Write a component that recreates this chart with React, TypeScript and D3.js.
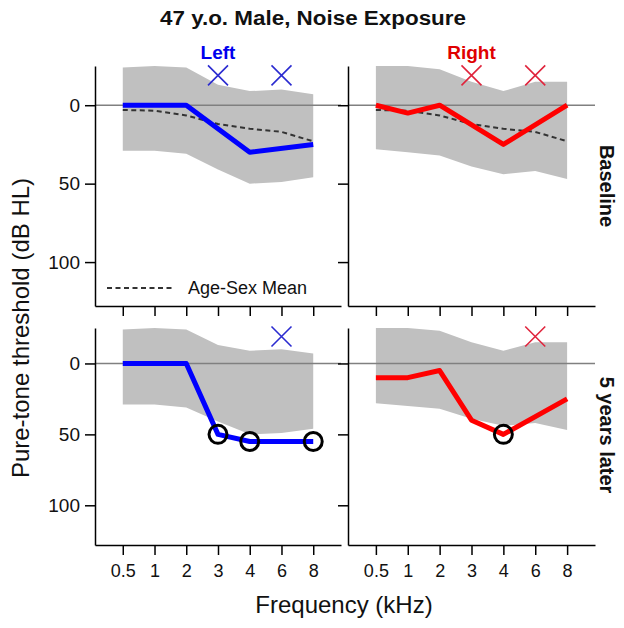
import { useEffect, useRef } from 'react';
import * as d3 from 'd3';

const freqLabels = ['0.5', '1', '2', '3', '4', '6', '8'];

// normal range band per ear (dB HL, upper / lower edge)
const leftNormUpper = [-24, -25, -24, -13, -9, -10, -7];
const leftNormLower = [29, 29, 31, 41, 50, 49, 46];
const rightNormUpper = [-25, -25, -23, -15, -9, -15, -15];
const rightNormLower = [28, 30, 32, 39, 44, 42, 47];

const ageSexMean = [3, 3.5, 6.5, 12, 15, 17, 23];

// thresholds; null = no response (drawn as an X)
const leftBaseline = [0, 0, 0, null, 30, null, 25];
const rightBaseline = [0, 5, 0, null, 25, null, 0];
const leftLater = [0, 0, 0, 50, 55, null, 55];
const rightLater = [10, 10, 5, 40, 50, null, 25];

// frequencies with a significant shift (circled)
const leftLaterShifts = ['3', '4', '8'];
const rightLaterShifts = ['4'];

const yTicks = [0, 50, 100];
const yDomain: [number, number] = [-25, 128];
const noResponseLevel = -19;

const FONT = 'Liberation Sans, Arial, sans-serif';

type Val = number | null;

interface Panel {
  x0: number;
  x1: number;
  y0: number;
  y1: number;
  color: string;
  markColor: string;
  upper: number[];
  lower: number[];
  values: Val[];
  shifts: string[];
  showMean: boolean;
  showLegend: boolean;
  showXLabels: boolean;
  showYLabels: boolean;
}

const panels: Panel[] = [
  {
    x0: 95, x1: 341, y0: 66, y1: 306, color: '#0000ff', markColor: '#2b2bd0',
    upper: leftNormUpper, lower: leftNormLower, values: leftBaseline, shifts: [],
    showMean: true, showLegend: true, showXLabels: false, showYLabels: true,
  },
  {
    x0: 348, x1: 595, y0: 66, y1: 306, color: '#ff0000', markColor: '#e0243c',
    upper: rightNormUpper, lower: rightNormLower, values: rightBaseline, shifts: [],
    showMean: true, showLegend: false, showXLabels: false, showYLabels: false,
  },
  {
    x0: 95, x1: 341, y0: 328, y1: 545, color: '#0000ff', markColor: '#2b2bd0',
    upper: leftNormUpper, lower: leftNormLower, values: leftLater, shifts: leftLaterShifts,
    showMean: false, showLegend: false, showXLabels: true, showYLabels: true,
  },
  {
    x0: 348, x1: 595, y0: 328, y1: 545, color: '#ff0000', markColor: '#e0243c',
    upper: rightNormUpper, lower: rightNormLower, values: rightLater, shifts: rightLaterShifts,
    showMean: false, showLegend: false, showXLabels: true, showYLabels: false,
  },
];

export default function App() {
  const svgRef = useRef<SVGSVGElement>(null);

  useEffect(() => {
    if (!svgRef.current) return;
    const svg = d3.select(svgRef.current);
    svg.selectAll('*').remove();

    panels.forEach((p) => {
      const x = d3.scalePoint<string>().domain(freqLabels).range([p.x0, p.x1]).padding(0.875);
      const y = d3.scaleLinear().domain(yDomain).range([p.y0, p.y1]);
      const g = svg.append('g');

      // normal range band
      const area = d3.area<number>()
        .x((_, i) => x(freqLabels[i])!)
        .y0((_, i) => y(p.upper[i]))
        .y1((_, i) => y(p.lower[i]));
      g.append('path').attr('d', area(p.upper)).attr('fill', '#c0c0c0');

      // 0 dB reference
      g.append('line')
        .attr('x1', p.x0).attr('x2', p.x1)
        .attr('y1', y(0)).attr('y2', y(0))
        .attr('stroke', '#808080').attr('stroke-width', 1.5);

      if (p.showMean) {
        const meanLine = d3.line<number>()
          .x((_, i) => x(freqLabels[i])!)
          .y((d) => y(d));
        g.append('path')
          .attr('d', meanLine(ageSexMean))
          .attr('fill', 'none')
          .attr('stroke', '#333')
          .attr('stroke-width', 2)
          .attr('stroke-dasharray', '5,3.5');
      }

      const pts = p.values
        .map((v, i) => ({ f: freqLabels[i], v }))
        .filter((d) => d.v !== null) as { f: string; v: number }[];
      const thrLine = d3.line<{ f: string; v: number }>()
        .x((d) => x(d.f)!)
        .y((d) => y(d.v));
      g.append('path')
        .attr('d', thrLine(pts))
        .attr('fill', 'none')
        .attr('stroke', p.color)
        .attr('stroke-width', 5)
        .attr('stroke-linejoin', 'round');

      // shift circles
      g.selectAll('circle.shift')
        .data(pts.filter((d) => p.shifts.includes(d.f)))
        .enter()
        .append('circle')
        .attr('cx', (d) => x(d.f)!)
        .attr('cy', (d) => y(d.v))
        .attr('r', 9)
        .attr('fill', 'none')
        .attr('stroke', '#000')
        .attr('stroke-width', 3);

      // no-response crosses
      const missing = freqLabels.filter((_, i) => p.values[i] === null);
      missing.forEach((f) => {
        const cx = x(f)!;
        const cy = y(noResponseLevel);
        const s = 10;
        g.append('path')
          .attr('d', `M${cx - s},${cy - s}L${cx + s},${cy + s}M${cx - s},${cy + s}L${cx + s},${cy - s}`)
          .attr('stroke', p.markColor)
          .attr('stroke-width', 1.6)
          .attr('fill', 'none');
      });

      // axes
      const xAxis = d3.axisBottom(x).tickSize(10).tickSizeOuter(0).tickPadding(9);
      const gx = g.append('g').attr('transform', `translate(0,${p.y1})`).call(xAxis);
      gx.selectAll('path, line').attr('stroke', '#000').attr('stroke-width', 1.5);
      gx.selectAll('text')
        .attr('font-family', FONT)
        .attr('font-size', 18)
        .attr('fill', '#111')
        .style('display', p.showXLabels ? null : 'none');

      const yAxis = d3.axisLeft(y).tickValues(yTicks).tickSize(10).tickSizeOuter(0).tickPadding(5);
      const gy = g.append('g').attr('transform', `translate(${p.x0},0)`).call(yAxis);
      gy.selectAll('path, line').attr('stroke', '#000').attr('stroke-width', 1.5);
      gy.selectAll('text')
        .attr('font-family', FONT)
        .attr('font-size', 19)
        .attr('fill', '#111')
        .style('display', p.showYLabels ? null : 'none');

      if (p.showLegend) {
        const ly = p.y1 - 18;
        g.append('line')
          .attr('x1', p.x0 + 12).attr('x2', p.x0 + 80)
          .attr('y1', ly).attr('y2', ly)
          .attr('stroke', '#333').attr('stroke-width', 2)
          .attr('stroke-dasharray', '5,3.5');
        g.append('text')
          .attr('x', p.x0 + 93)
          .attr('y', ly)
          .attr('dominant-baseline', 'central')
          .attr('font-family', FONT)
          .attr('font-size', 18)
          .attr('fill', '#111')
          .text('Age-Sex Mean');
      }
    });

    const xl = d3.scalePoint<string>().domain(freqLabels).range([95, 341]).padding(0.875);
    const xr = d3.scalePoint<string>().domain(freqLabels).range([348, 595]).padding(0.875);

    // title and ear labels
    svg.append('text')
      .attr('x', 313).attr('y', 25)
      .attr('text-anchor', 'middle')
      .attr('font-family', FONT).attr('font-size', 20).attr('font-weight', 700)
      .attr('textLength', 306).attr('lengthAdjust', 'spacingAndGlyphs')
      .attr('fill', '#111')
      .text('47 y.o. Male, Noise Exposure');
    svg.append('text')
      .attr('x', xl('3')!).attr('y', 59)
      .attr('text-anchor', 'middle')
      .attr('font-family', FONT).attr('font-size', 19).attr('font-weight', 700)
      .attr('fill', '#0000ee')
      .text('Left');
    svg.append('text')
      .attr('x', xr('3')!).attr('y', 59)
      .attr('text-anchor', 'middle')
      .attr('font-family', FONT).attr('font-size', 19).attr('font-weight', 700)
      .attr('fill', '#e00000')
      .text('Right');

    // row strip labels
    const strip = (label: string, cy: number) =>
      svg.append('text')
        .attr('transform', `translate(607,${cy}) rotate(90)`)
        .attr('text-anchor', 'middle')
        .attr('dominant-baseline', 'central')
        .attr('font-family', FONT).attr('font-size', 20).attr('font-weight', 700)
        .attr('fill', '#111')
        .text(label);
    strip('Baseline', 186);
    strip('5 years later', 435);

    // axis titles
    svg.append('text')
      .attr('transform', 'translate(20,328) rotate(-90)')
      .attr('text-anchor', 'middle')
      .attr('dominant-baseline', 'central')
      .attr('font-family', FONT).attr('font-size', 24)
      .attr('fill', '#111')
      .text('Pure-tone threshold (dB HL)');
    svg.append('text')
      .attr('x', 344).attr('y', 613)
      .attr('text-anchor', 'middle')
      .attr('font-family', FONT).attr('font-size', 24)
      .attr('fill', '#111')
      .text('Frequency (kHz)');
  }, []);

  return (
    <svg
      ref={svgRef}
      width={624}
      height={628}
      style={{ position: 'absolute', left: 0, top: 0, background: '#fff' }}
    />
  );
}
